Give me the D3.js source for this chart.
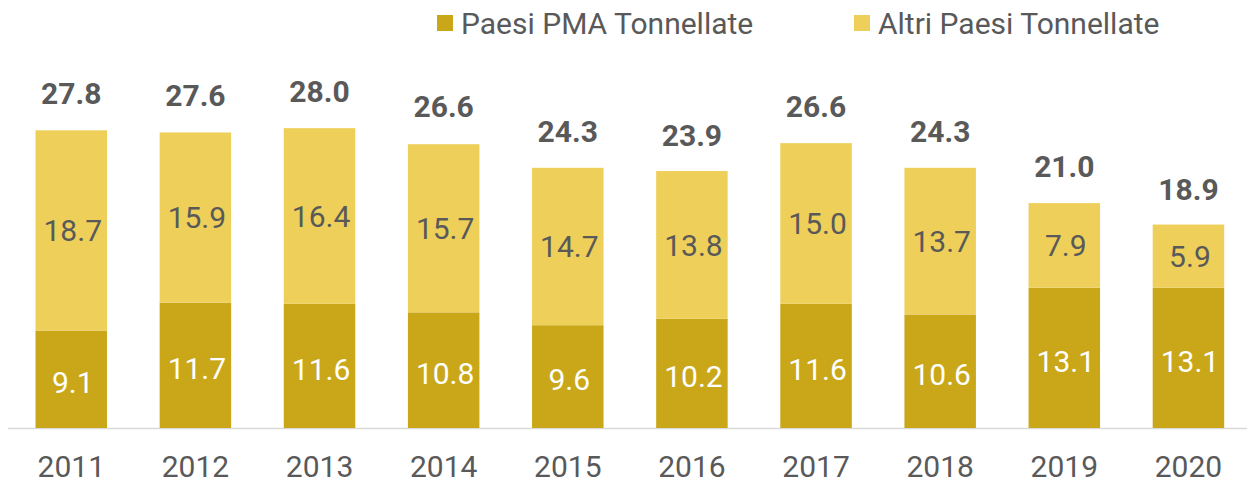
<!DOCTYPE html>
<html><head><meta charset="utf-8">
<script src="https://cdn.jsdelivr.net/npm/d3@7"></script>
<style>html,body{margin:0;padding:0;background:#fff;}svg{display:block;font-family:Roboto,sans-serif;}</style>
</head><body>
<svg id="c" width="1247" height="482"></svg>
<script>
const years = ["2011","2012","2013","2014","2015","2016","2017","2018","2019","2020"];
const pma = [9.1,11.7,11.6,10.8,9.6,10.2,11.6,10.6,13.1,13.1];
const altri = [18.7,15.9,16.4,15.7,14.7,13.8,15.0,13.7,7.9,5.9];
const totals = [27.8,27.6,28.0,26.6,24.3,23.9,26.6,24.3,21.0,18.9];
const seriesNames = ["Paesi PMA Tonnellate","Altri Paesi Tonnellate"];
const colors = ["#C9A718","#EDCF5A"];

const svg = d3.select("#c");
const fs = 30;
const x = d3.scaleBand().domain(years).range([9.2,1250.5]).paddingInner(0.424).paddingOuter(0.212);
const y = d3.scaleLinear().domain([0,27.8]).range([428,130.3]);

const rows = years.map((yr,i)=>({year:yr, pma:pma[i], altri:altri[i], total:totals[i]}));
const stack = d3.stack().keys(["pma","altri"])(rows);

// axis line
svg.append("line").attr("x1",8).attr("x2",1247).attr("y1",y(0)+0.5).attr("y2",y(0)+0.5)
  .attr("stroke","#D9D9D9").attr("stroke-width",1.5);

stack.forEach((s,si)=>{
  svg.append("g").selectAll("rect").data(s).join("rect")
    .attr("x",d=>x(d.data.year)).attr("width",x.bandwidth())
    .attr("y",d=>y(d[1])).attr("height",d=>y(d[0])-y(d[1]))
    .attr("fill",colors[si]);
  svg.append("g").selectAll("text").data(s).join("text")
    .attr("x",d=>x(d.data.year)+x.bandwidth()/2+1.5)
    .attr("y",d=>(y(d[0])+y(d[1]))/2 + (si===0?3:0))
    .attr("dy","0.36em")
    .attr("text-anchor","middle").attr("font-size",fs)
    .attr("fill",si===0?"#FFFFFF":"#595959")
    .text(d=>d3.format(".1f")(d[1]-d[0]));
});

// totals
svg.append("g").selectAll("text").data(rows).join("text")
  .attr("x",d=>x(d.year)+x.bandwidth()/2)
  .attr("y",d=>y(d.total)-26)
  .attr("text-anchor","middle").attr("font-size",fs).attr("font-weight","bold")
  .attr("fill","#595959")
  .text(d=>d3.format(".1f")(d.total));

// x axis labels
const xa = svg.append("g").attr("transform",`translate(0,${y(0)})`)
  .call(d3.axisBottom(x).tickSize(0).tickPadding(0));
xa.select(".domain").remove();
xa.selectAll("text").attr("font-size",fs).attr("font-family","Roboto,sans-serif")
  .attr("fill","#595959").attr("dy",null).attr("y",48.5);

// legend
const legX = [437,854];
seriesNames.forEach((n,i)=>{
  svg.append("rect").attr("x",legX[i]).attr("y",15).attr("width",16).attr("height",16).attr("fill",colors[i]);
  svg.append("text").attr("x",legX[i]+24).attr("y",33.5).attr("font-size",fs).attr("fill","#595959").text(n);
});
</script>
</body></html>
